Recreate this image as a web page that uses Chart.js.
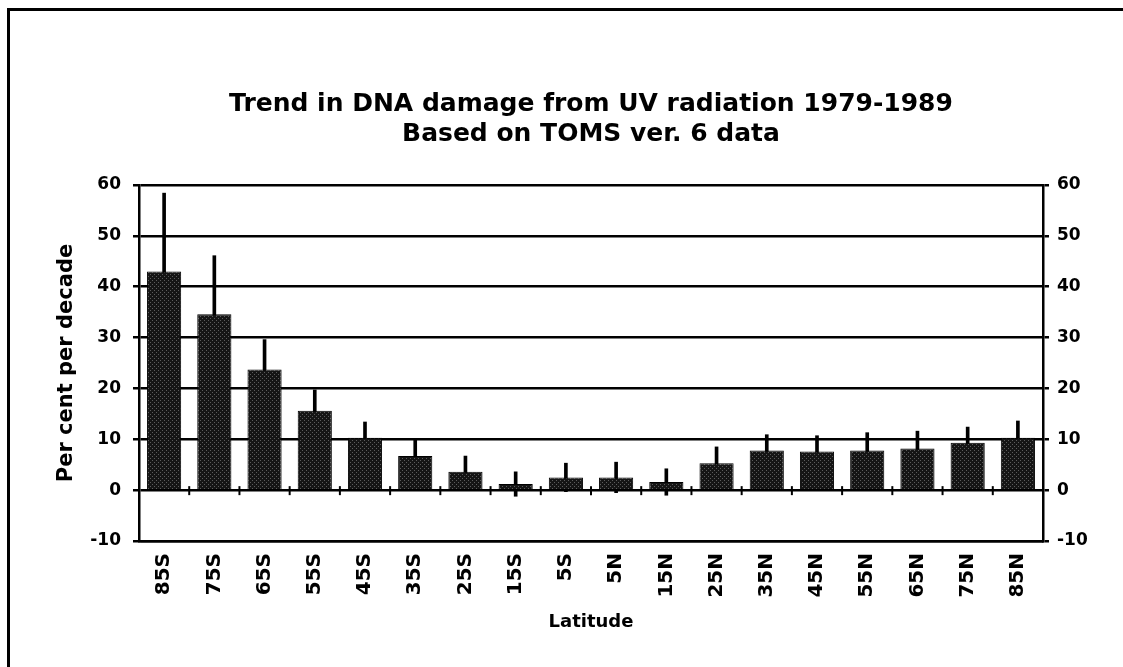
<!DOCTYPE html>
<html><head><meta charset="utf-8">
<script src="https://cdn.jsdelivr.net/npm/chart.js@4"></script>
<style>
html,body{margin:0;padding:0;background:#fff;}
#wrap{position:relative;width:1123px;height:667px;overflow:hidden;}
#frame{position:absolute;left:7px;top:8px;width:1200px;height:800px;border-left:3px solid #000;border-top:3px solid #000;}
canvas{position:absolute;left:0;top:0;}
</style></head><body>
<div id="wrap"><div id="frame"></div><canvas id="c" width="1123" height="667"></canvas></div>
<script>
const titleLines = ['Trend in DNA damage from UV radiation 1979-1989', 'Based on TOMS ver. 6 data'];
const latitudes = ['85S','75S','65S','55S','45S','35S','25S','15S','5S','5N','15N','25N','35N','45N','55N','65N','75N','85N'];
const trend     = [43.0, 34.6, 23.7, 15.6, 10.3, 6.7, 3.6, 1.2, 2.5, 2.5, 1.6, 5.3, 7.8, 7.6, 7.8, 8.2, 9.3, 10.3];
const errorHalf = [15.4, 11.5, 5.9, 4.1, 3.1, 3.1, 3.1, 2.4, 2.8, 3.0, 2.6, 3.2, 3.1, 3.1, 3.5, 3.4, 3.1, 3.3];
const yTickValues = [-10, 0, 10, 20, 30, 40, 50, 60];
const yAxisTitle = 'Per cent per decade';
const xAxisTitle = 'Latitude';

const canvas = document.getElementById('c');
const ctx = canvas.getContext('2d');
function stipple(){
  const p = document.createElement('canvas'); p.width = 4; p.height = 4;
  const g = p.getContext('2d');
  g.fillStyle = '#151515'; g.fillRect(0,0,4,4);
  g.fillStyle = '#5c5c5c'; g.fillRect(0,0,1,1); g.fillRect(2,2,1,1);
  return ctx.createPattern(p, 'repeat');
}
const FONT = 'DejaVu Sans';

const zeroTicks = {
  id: 'zeroTicks',
  afterDatasetsDraw(chart){
    const x = chart.scales.x, y = chart.scales.y;
    const y0 = y.getPixelForValue(0);
    const c = chart.ctx;
    c.save(); c.strokeStyle = '#000'; c.lineWidth = 2;
    for (let i = 1; i < latitudes.length; i++){
      const xb = (x.getPixelForValue(i-1) + x.getPixelForValue(i)) / 2;
      c.beginPath(); c.moveTo(xb, y0 - 4); c.lineTo(xb, y0 + 5); c.stroke();
    }
    c.restore();
  }
};
const titleOverPlot = {
  id: 'titleOverPlot',
  afterLayout(chart){
    const tb = chart.titleBlock;
    if (tb){ tb.left = chart.chartArea.left; tb.right = chart.chartArea.right; tb.width = tb.right - tb.left; }
  }
};

new Chart(canvas, {
  type: 'bar',
  data: {
    labels: latitudes,
    datasets: [
      { label: 'Trend', data: trend, backgroundColor: stipple(), borderColor: '#000', borderWidth: 1,
        barPercentage: 0.68, categoryPercentage: 1, grouped: false, order: 1 },
      { label: 'Error', data: trend.map((v,i) => [v - errorHalf[i], v + errorHalf[i]]), backgroundColor: '#000',
        barThickness: 3, grouped: false, order: 2 }
    ]
  },
  options: {
    responsive: false, animation: false, devicePixelRatio: 1,
    layout: { padding: { left: 46, right: 20, top: 0, bottom: 30 } },
    plugins: {
      legend: { display: false }, tooltip: { enabled: false },
      title: { display: true, text: titleLines, color: '#000',
        font: { family: FONT, size: 25, weight: 'bold', lineHeight: 1.2 },
        padding: { top: 89, bottom: 36 } }
    },
    scales: {
      x: {
        grid: { display: false, drawTicks: false },
        border: { display: true, color: '#000', width: 2.5 },
        ticks: { color: '#000', maxRotation: 90, minRotation: 90, padding: 12, autoSkip: false,
          font: { family: FONT, size: 20, weight: 'bold' } },
        title: { display: true, text: xAxisTitle, color: '#000', padding: { top: 0, bottom: 4 },
          font: { family: FONT, size: 18, weight: 'bold', lineHeight: 1.2 } },
        afterFit(s){ s.height = 96; }
      },
      y: {
        position: 'left', min: yTickValues[0], max: yTickValues[yTickValues.length-1],
        afterBuildTicks(s){ s.ticks = yTickValues.map(v => ({ value: v })); },
        grid: { color: '#000', lineWidth: 2.5, tickLength: 6, drawTicks: true },
        border: { display: true, color: '#000', width: 2.5 },
        ticks: { color: '#000', padding: 12, font: { family: FONT, size: 17, weight: 'bold' } },
        title: { display: true, text: yAxisTitle, color: '#000', padding: { top: 8, bottom: 0 },
          font: { family: FONT, size: 21, weight: 'bold', lineHeight: 1.2 } },
        afterFit(s){ s.width = 93; }
      },
      y2: {
        position: 'right', min: yTickValues[0], max: yTickValues[yTickValues.length-1],
        afterBuildTicks(s){ s.ticks = yTickValues.map(v => ({ value: v })); },
        grid: { drawOnChartArea: false, color: '#000', lineWidth: 2.5, tickLength: 6 },
        border: { display: true, color: '#000', width: 2.5 },
        ticks: { color: '#000', padding: 8, font: { family: FONT, size: 17, weight: 'bold' } },
        afterFit(s){ s.width = 60; }
      }
    }
  },
  plugins: [zeroTicks, titleOverPlot]
});
</script>
</body></html>
